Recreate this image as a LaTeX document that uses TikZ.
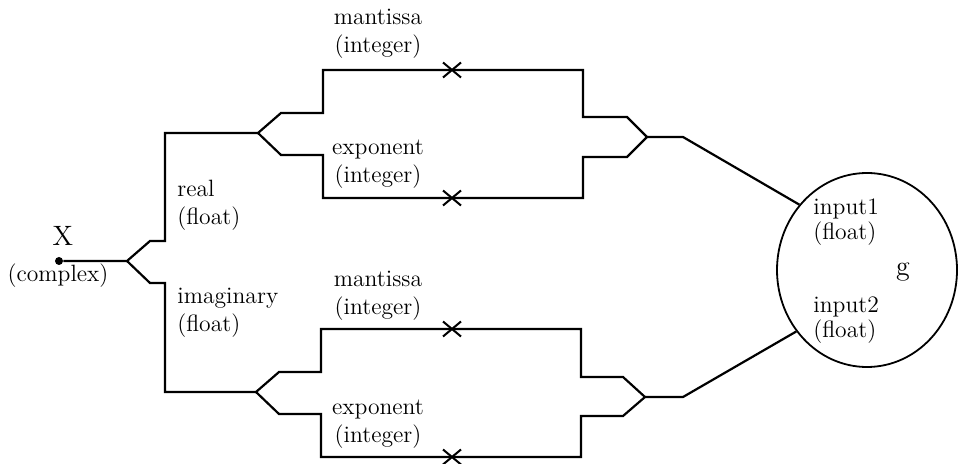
\documentclass[tikz,border=0pt]{standalone}
\usetikzlibrary{shapes.geometric,shapes.misc}
\begin{document}
\begin{tikzpicture}[x=0.5pt,y=-0.5pt,
  wire/.style={line width=1.1pt, line join=miter},
  lbl/.style={inner sep=0pt, font=\fontsize{11.8}{14}\selectfont},
  biglbl/.style={inner sep=0pt, font=\fontsize{14}{16}\selectfont},
  lblc/.style={lbl, align=center},
  lbll/.style={lbl, align=left, anchor=west},
  inlbl/.style={inner sep=0pt, font=\fontsize{11.8}{10.5}\selectfont, align=left, anchor=west},
  xmark/.style={draw, cross out, minimum width=8pt, minimum height=6.5pt, inner sep=0pt, line width=1pt},
  dotnode/.style={circle, fill, inner sep=0pt, minimum size=4pt},
  funcnode/.style={draw, ellipse, minimum width=90pt, minimum height=97pt, inner sep=0pt, line width=0.9pt}]
\useasboundingbox (0,0) rectangle (962,464);

% source
\node[dotnode] (x) at (59,261) {};
\node[biglbl] (xl) at (63,236) {X};
\node[lbl] (xc) at (58,276) {(complex)};

% function
\node[funcnode] (g) at (867,270) {};
\node[biglbl] (gl) at (903,272) {g};
\node[inlbl] (in1) at (813,222) {input1\\(float)};
\node[inlbl] (in2) at (813,320) {input2\\(float)};

% coordinates
\coordinate (s0) at (127,261);
\coordinate (ra) at (150,241); \coordinate (rb) at (165,241); \coordinate (rc) at (165,133);
\coordinate (ia) at (150,283); \coordinate (ib) at (165,283); \coordinate (ic) at (165,392);

\coordinate (u0) at (258,133);
\coordinate (um1) at (281,113); \coordinate (um2) at (323,113); \coordinate (um3) at (323,70);
\coordinate (um4) at (583,70); \coordinate (um5) at (583,117); \coordinate (um6) at (627,117);
\coordinate (ue1) at (281,155); \coordinate (ue2) at (323,155); \coordinate (ue3) at (323,198);
\coordinate (ue4) at (583,198); \coordinate (ue5) at (583,157); \coordinate (ue6) at (627,157);
\coordinate (m0) at (647,137); \coordinate (mo) at (683,137);

\coordinate (l0) at (256,392);
\coordinate (lm1) at (279,372); \coordinate (lm2) at (321,372); \coordinate (lm3) at (321,329);
\coordinate (lm4) at (581,329); \coordinate (lm5) at (581,377); \coordinate (lm6) at (623,377);
\coordinate (le1) at (279,414); \coordinate (le2) at (321,414); \coordinate (le3) at (321,457);
\coordinate (le4) at (581,457); \coordinate (le5) at (581,416); \coordinate (le6) at (623,416);
\coordinate (n0) at (645,397); \coordinate (no) at (683,397);

% wires
\draw[wire] (x) -- (s0) -- (ra) -- (rb) -- (rc) -- (u0);
\draw[wire] (s0) -- (ia) -- (ib) -- (ic) -- (l0);
\draw[wire] (u0) -- (um1) -- (um2) -- (um3) -- (um4) -- (um5) -- (um6) -- (m0);
\draw[wire] (u0) -- (ue1) -- (ue2) -- (ue3) -- (ue4) -- (ue5) -- (ue6) -- (m0);
\draw[wire] (m0) -- (mo) -- (g.136.8);
\draw[wire] (l0) -- (lm1) -- (lm2) -- (lm3) -- (lm4) -- (lm5) -- (lm6) -- (n0);
\draw[wire] (l0) -- (le1) -- (le2) -- (le3) -- (le4) -- (le5) -- (le6) -- (n0);
\draw[wire] (n0) -- (no) -- (g.221.9);

% cut marks
\node[xmark] (c1) at (452,70) {};
\node[xmark] (c2) at (452,198) {};
\node[xmark] (c3) at (452,329) {};
\node[xmark] (c4) at (452,457) {};

% labels
\node[lblc] (tm) at (378,34) {mantissa\\(integer)};
\node[lblc] (te) at (378,164) {exponent\\(integer)};
\node[lblc] (bm) at (378,296) {mantissa\\(integer)};
\node[lblc] (be) at (378,424) {exponent\\(integer)};
\node[lbll] (re) at (177,205) {real\\(float)};
\node[lbll] (im) at (177,313) {imaginary\\(float)};
\end{tikzpicture}
\end{document}
